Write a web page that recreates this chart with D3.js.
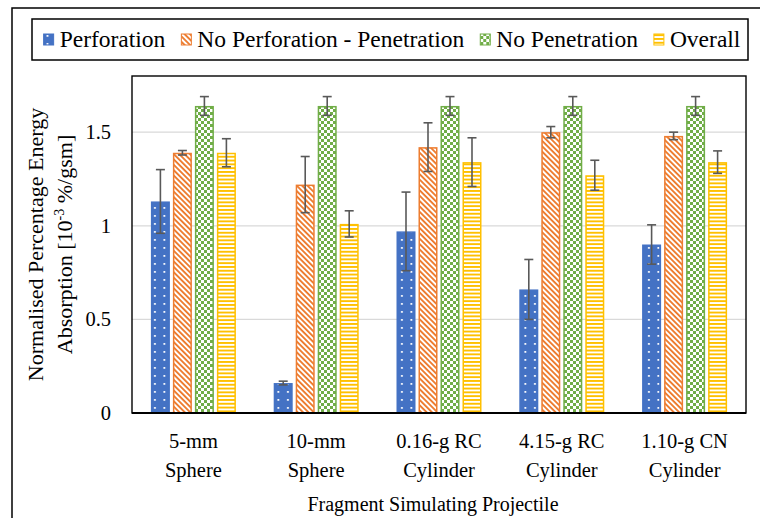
<!DOCTYPE html>
<html>
<head>
<meta charset="utf-8">
<script src="https://cdn.jsdelivr.net/npm/d3@7"></script>
<style>
  body { margin: 0; background: #fff; }
</style>
</head>
<body>
<div id="chart"></div>
<script>
// data
var categories = [["5-mm", "Sphere"], ["10-mm", "Sphere"], ["0.16-g RC", "Cylinder"], ["4.15-g RC", "Cylinder"], ["1.10-g CN", "Cylinder"]];
var seriesNames = ["Perforation", "No Perforation - Penetration", "No Penetration", "Overall"];
var perforation = [1.13, 0.16, 0.97, 0.66, 0.90];
var perforationErr = [0.17, 0.01, 0.21, 0.16, 0.105];
var noPerfPen = [1.39, 1.22, 1.42, 1.50, 1.48];
var noPerfPenErr = [0.012, 0.15, 0.13, 0.03, 0.02];
var noPen = [1.64, 1.64, 1.64, 1.64, 1.64];
var noPenErr = [0.05, 0.05, 0.05, 0.05, 0.05];
var overall = [1.39, 1.01, 1.34, 1.27, 1.34];
var overallErr = [0.075, 0.07, 0.13, 0.08, 0.06];
var yTicks = [0, 0.5, 1, 1.5];

var FONT = "'Liberation Serif', 'Times New Roman', serif";

var svgWidth = 760, svgHeight = 518;
var margin = {top: 76, right: 14, bottom: 105, left: 132};
var width = svgWidth - margin.left - margin.right;
var height = svgHeight - margin.top - margin.bottom;

var colors = ["#4472C4", "#ED7D31", "#70AD47", "#FFC000"];
var patIds = ["pDots", "pDiag", "pCheck", "pHoriz"];

var svg = d3.select("#chart").append("svg")
    .attr("width", svgWidth)
    .attr("height", svgHeight)
    .style("font-family", FONT);

// patterns
var defs = svg.append("defs");
var p0 = defs.append("pattern").attr("id", "pDots").attr("patternUnits", "userSpaceOnUse")
    .attr("width", 9.5).attr("height", 8);
p0.append("rect").attr("width", 9.5).attr("height", 8).attr("fill", colors[0]);
p0.append("rect").attr("x", 3).attr("y", 3).attr("width", 1.8).attr("height", 1.8).attr("fill", "#fff");

var p1 = defs.append("pattern").attr("id", "pDiag").attr("patternUnits", "userSpaceOnUse")
    .attr("width", 3.8).attr("height", 3.8).attr("patternTransform", "rotate(-45)");
p1.append("rect").attr("width", 3.8).attr("height", 3.8).attr("fill", "#fff");
p1.append("rect").attr("width", 1.9).attr("height", 3.8).attr("fill", colors[1]);

var p2 = defs.append("pattern").attr("id", "pCheck").attr("patternUnits", "userSpaceOnUse")
    .attr("width", 6).attr("height", 6);
p2.append("rect").attr("width", 6).attr("height", 6).attr("fill", "#fff");
p2.append("rect").attr("width", 3).attr("height", 3).attr("fill", colors[2]);
p2.append("rect").attr("x", 3).attr("y", 3).attr("width", 3).attr("height", 3).attr("fill", colors[2]);

var p3 = defs.append("pattern").attr("id", "pHoriz").attr("patternUnits", "userSpaceOnUse")
    .attr("width", 4).attr("height", 3.8);
p3.append("rect").attr("width", 4).attr("height", 3.8).attr("fill", "#fff");
p3.append("rect").attr("width", 4).attr("height", 1.9).attr("fill", colors[3]);

// outer frame
svg.append("rect")
    .attr("x", 12).attr("y", 8)
    .attr("width", 800).attr("height", 600)
    .attr("fill", "none").attr("stroke", "#000").attr("stroke-width", 1.5);

var chartGroup = svg.append("g")
    .attr("transform", `translate(${margin.left}, ${margin.top})`);

var x0 = d3.scaleBand()
    .domain(d3.range(categories.length))
    .range([0, width]);

var x1 = d3.scaleBand()
    .domain(d3.range(seriesNames.length))
    .range([-42.5, 42.5])
    .paddingInner(0.136);

var y = d3.scaleLinear()
    .domain([0, 1.8])
    .range([height, 0]);

// gridlines
chartGroup.selectAll(".grid")
    .data(yTicks.filter(d => d > 0))
    .enter().append("line")
    .attr("x1", 0).attr("x2", width)
    .attr("y1", d => y(d)).attr("y2", d => y(d))
    .attr("stroke", "#d9d9d9").attr("stroke-width", 1.3);

// y axis labels
var yAxis = d3.axisLeft(y).tickValues(yTicks).tickSize(0).tickPadding(21)
    .tickFormat(d => d);
var yg = chartGroup.append("g").call(yAxis)
    .attr("font-family", null).attr("font-size", null);
yg.select(".domain").remove();
yg.selectAll("text")
    .style("font-family", FONT)
    .style("font-size", "20.5px")
    .attr("fill", "#000");

// bars
var values = [perforation, noPerfPen, noPen, overall];
var errs = [perforationErr, noPerfPenErr, noPenErr, overallErr];
var barData = [];
values.forEach(function(vals, s) {
  vals.forEach(function(v, c) {
    barData.push({s: s, c: c, v: v, e: errs[s][c]});
  });
});

chartGroup.selectAll(".bar")
    .data(barData)
    .enter().append("rect")
    .attr("x", d => x0(d.c) + x0.bandwidth() / 2 + x1(d.s) + 0.75)
    .attr("y", d => y(d.v) + 0.75)
    .attr("width", x1.bandwidth() - 1.5)
    .attr("height", d => height - y(d.v) - 0.75)
    .attr("fill", d => `url(#${patIds[d.s]})`)
    .attr("stroke", d => colors[d.s])
    .attr("stroke-width", 1.5);

// error bars
var eg = chartGroup.selectAll(".err")
    .data(barData)
    .enter().append("g")
    .attr("transform", d => `translate(${x0(d.c) + x0.bandwidth() / 2 + x1(d.s) + x1.bandwidth() / 2}, 0)`)
    .attr("stroke", "#595959").attr("stroke-width", 1.6);
eg.append("line").attr("x1", 0).attr("x2", 0)
    .attr("y1", d => y(d.v + d.e)).attr("y2", d => y(d.v - d.e));
eg.append("line").attr("x1", -4.5).attr("x2", 4.5)
    .attr("y1", d => y(d.v + d.e)).attr("y2", d => y(d.v + d.e));
eg.append("line").attr("x1", -4.5).attr("x2", 4.5)
    .attr("y1", d => y(d.v - d.e)).attr("y2", d => y(d.v - d.e));

// plot area border
chartGroup.append("rect")
    .attr("width", width).attr("height", height)
    .attr("fill", "none").attr("stroke", "#000").attr("stroke-width", 1.4);
chartGroup.append("line")
    .attr("x1", 0).attr("x2", width)
    .attr("y1", height).attr("y2", height)
    .attr("stroke", "#000").attr("stroke-width", 2);

// category labels
var cl = chartGroup.selectAll(".cat")
    .data(categories)
    .enter().append("text")
    .attr("text-anchor", "middle")
    .style("font-family", FONT)
    .style("font-size", "20.5px");
cl.append("tspan")
    .attr("x", (d, i) => x0(i) + x0.bandwidth() / 2)
    .attr("y", height + 35)
    .text(d => d[0]);
cl.append("tspan")
    .attr("x", (d, i) => x0(i) + x0.bandwidth() / 2)
    .attr("y", height + 64)
    .text(d => d[1]);

// axis titles
chartGroup.append("text")
    .attr("x", width / 2 - 6)
    .attr("y", height + 98)
    .attr("text-anchor", "middle")
    .style("font-family", FONT)
    .style("font-size", "20px")
    .text("Fragment Simulating Projectile");

var yt = svg.append("text")
    .attr("transform", `translate(0, ${margin.top + height / 2}) rotate(-90)`)
    .attr("text-anchor", "middle")
    .style("font-family", FONT)
    .style("font-size", "22px");
yt.append("tspan").attr("x", 0).attr("y", 43).text("Normalised Percentage Energy");
var t2 = yt.append("tspan").attr("x", 0).attr("y", 72);
t2.append("tspan").text("Absorption [10");
t2.append("tspan").attr("dy", -8).style("font-size", "14px").text("-3");
t2.append("tspan").attr("dy", 8).text(" %/gsm]");

// legend
var legBox = {x: 32, y: 19, w: 716, h: 41};
svg.append("rect")
    .attr("x", legBox.x).attr("y", legBox.y)
    .attr("width", legBox.w).attr("height", legBox.h)
    .attr("fill", "#fff").attr("stroke", "#000").attr("stroke-width", 1.5);

var legend = svg.append("g");
var items = legend.selectAll(".leg")
    .data(seriesNames)
    .enter().append("g");
items.append("rect")
    .attr("y", 34).attr("width", 10).attr("height", 11)
    .attr("fill", (d, i) => `url(#${patIds[i]})`)
    .attr("stroke", (d, i) => colors[i]).attr("stroke-width", 1);
items.append("text")
    .attr("x", 16).attr("y", 47)
    .style("font-family", FONT)
    .style("font-size", "23.5px")
    .text(d => d);
var offs = [];
var cur = 0;
items.each(function(d, i) {
  var w = d3.select(this).select("text").node().getComputedTextLength();
  offs.push(cur);
  cur += 16 + w + 16;
});
var total = cur - 16;
var startX = legBox.x + (legBox.w - total) / 2 + 2;
items.attr("transform", (d, i) => `translate(${startX + offs[i]}, 0)`);
</script>
</body>
</html>
